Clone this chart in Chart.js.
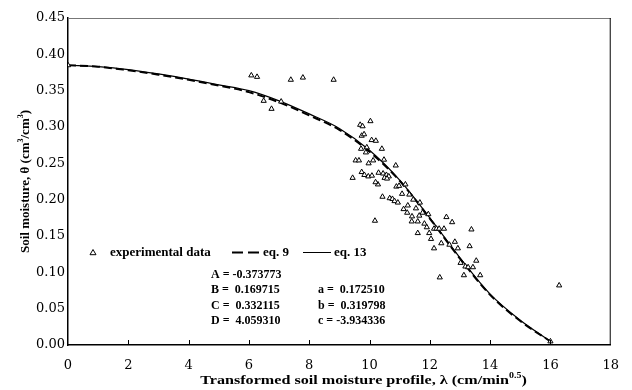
<!DOCTYPE html>
<html>
<head>
<meta charset="utf-8">
<script src="https://cdn.jsdelivr.net/npm/chart.js@4.4.0/dist/chart.umd.min.js"></script>
<style>
  html, body { margin: 0; padding: 0; background: #fff; }
  #wrap { width: 632px; height: 390px; }
</style>
</head>
<body>
<div id="wrap"><canvas id="chart" width="632" height="390"></canvas></div>
<script>
// measured points (lambda, theta)
const expX = [0.00, 6.08, 6.27, 6.49, 6.75, 7.07, 7.39, 7.79, 8.81,
  9.69, 9.77, 10.03, 9.74, 9.82, 10.07, 10.21, 9.72, 9.91, 10.41, 9.88,
  9.54, 9.65, 9.97, 10.12, 10.48, 10.87, 9.44, 9.74, 9.83, 9.96, 10.08,
  10.30, 10.45, 10.56, 10.64, 10.50, 10.58, 10.28, 10.20, 10.89, 10.98,
  11.19, 11.08, 10.43, 10.67, 10.76, 10.83, 10.94, 11.32, 11.45, 11.67,
  11.27, 11.13, 11.54, 11.41, 11.25, 11.65, 11.76, 11.95, 11.40, 11.60,
  11.82, 11.90, 11.60, 11.98, 12.14, 12.22, 12.31, 12.47, 12.55, 12.74,
  13.38, 12.04, 12.14, 12.38, 12.65, 12.83, 12.93, 13.32, 13.02, 13.18,
  13.27, 13.43, 13.54, 12.33, 13.13, 13.67, 16.00, 10.18, 16.29];
const expY = [0.385, 0.371, 0.369, 0.336, 0.325, 0.335, 0.365, 0.368, 0.365,
  0.303, 0.301, 0.308, 0.288, 0.290, 0.282, 0.281, 0.270, 0.272, 0.270, 0.265,
  0.254, 0.254, 0.250, 0.254, 0.255, 0.247, 0.230, 0.238, 0.234, 0.232, 0.233,
  0.237, 0.236, 0.234, 0.232, 0.230, 0.229, 0.221, 0.224, 0.218, 0.219,
  0.221, 0.208, 0.204, 0.202, 0.201, 0.198, 0.196, 0.207, 0.200, 0.196,
  0.192, 0.187, 0.188, 0.177, 0.182, 0.178, 0.182, 0.180, 0.170, 0.170,
  0.167, 0.162, 0.154, 0.154, 0.160, 0.160, 0.160, 0.160, 0.176, 0.169,
  0.159, 0.146, 0.133, 0.140, 0.138, 0.142, 0.133, 0.136, 0.113, 0.108,
  0.107, 0.107, 0.116, 0.093, 0.096, 0.096, 0.005, 0.171, 0.082];

// fitted curves
const curveX = [0, 1, 2, 3, 4, 5, 6, 7, 8, 9, 10, 11, 12, 13, 14, 15, 16];
const eq9Y  = [0.385, 0.383, 0.378, 0.372, 0.365, 0.357, 0.348, 0.334, 0.316,
  0.296, 0.266, 0.226, 0.174, 0.119, 0.069, 0.033, 0.005];
const eq13Y = [0.385, 0.383, 0.379, 0.373, 0.366, 0.358, 0.350, 0.336, 0.318,
  0.298, 0.268, 0.227, 0.175, 0.120, 0.070, 0.034, 0.005];

const xTicks = [0, 2, 4, 6, 8, 10, 12, 14, 16, 18];
const yTicks = [0, 0.05, 0.10, 0.15, 0.20, 0.25, 0.30, 0.35, 0.40, 0.45];

const paramsLeft = ["A = -0.373773", "B =  0.169715", "C =  0.332115", "D =  4.059310"];
const paramsRight = ["a =  0.172510", "b =  0.319798", "c = -3.934336"];

const toXY = (xs, ys) => xs.map((x, i) => ({ x: x, y: ys[i] }));

const BOLD = "bold 13px 'Liberation Serif', 'Times New Roman', serif";

// draw text pieces with superscripts, centred on cx (sx = horizontal stretch)
function drawRich(ctx, parts, cx, cy, size, sx) {
  const base = "bold " + size + "px 'Liberation Serif', serif";
  const sup = "bold " + Math.round(size * 0.65) + "px 'Liberation Serif', serif";
  let w = 0;
  parts.forEach(p => { ctx.font = p.sup ? sup : base; w += ctx.measureText(p.t).width; });
  ctx.save();
  ctx.translate(cx, cy);
  ctx.scale(sx || 1, 1);
  let x = -w / 2;
  ctx.textAlign = "left";
  ctx.textBaseline = "middle";
  parts.forEach(p => {
    ctx.font = p.sup ? sup : base;
    ctx.fillText(p.t, x, p.sup ? -size * 0.4 : 0);
    x += ctx.measureText(p.t).width;
  });
  ctx.restore();
}

const decor = {
  id: "decor",
  afterDraw(chart) {
    const ctx = chart.ctx;
    const a = chart.chartArea;
    const xs = chart.scales.x;
    ctx.save();
    // top and right frame
    ctx.lineWidth = 1;
    ctx.strokeStyle = "#777";
    ctx.beginPath(); ctx.moveTo(a.left, a.top + 0.5); ctx.lineTo(a.right, a.top + 0.5); ctx.stroke();
    ctx.strokeStyle = "#000";
    ctx.beginPath(); ctx.moveTo(a.right - 0.5, a.top); ctx.lineTo(a.right - 0.5, a.bottom); ctx.stroke();
    // inward ticks on x axis
    xTicks.forEach(v => {
      if (v === 0 || v === 18) return;
      const px = Math.round(xs.getPixelForValue(v)) + 0.5;
      ctx.beginPath(); ctx.moveTo(px, a.bottom); ctx.lineTo(px, a.bottom - 5); ctx.stroke();
    });

    // legend
    ctx.fillStyle = "#000";
    const ly = 252.5;
    ctx.lineWidth = 1;
    ctx.beginPath();
    ctx.moveTo(93, ly - 3); ctx.lineTo(96, ly + 2.2); ctx.lineTo(90, ly + 2.2); ctx.closePath();
    ctx.stroke();
    ctx.font = BOLD;
    ctx.textAlign = "left";
    ctx.textBaseline = "middle";
    ctx.fillText("experimental data", 110, ly);
    ctx.lineWidth = 2.2;
    ctx.setLineDash([11, 5]);
    ctx.beginPath(); ctx.moveTo(232, ly); ctx.lineTo(259, ly); ctx.stroke();
    ctx.setLineDash([]);
    ctx.fillText("eq. 9", 263, ly);
    ctx.lineWidth = 1;
    ctx.beginPath(); ctx.moveTo(303, ly); ctx.lineTo(331, ly); ctx.stroke();
    ctx.fillText("eq. 13", 334, ly);

    // parameters
    ctx.font = "bold 12px 'Liberation Serif', serif";
    paramsLeft.forEach((t, i) => ctx.fillText(t, 211, 275 + i * 15.4));
    paramsRight.forEach((t, i) => ctx.fillText(t, 318, 290.4 + i * 15.4));

    // axis titles
    drawRich(ctx, [
      { t: "Transformed soil moisture profile, \u03bb (cm/min" },
      { t: "0.5", sup: true },
      { t: ")" }
    ], 363.5, 381, 13, 1.24);

    ctx.translate(26, (a.top + a.bottom) / 2);
    ctx.rotate(-Math.PI / 2);
    drawRich(ctx, [
      { t: "Soil moisture, \u03b8 (cm" },
      { t: "3", sup: true },
      { t: "/cm" },
      { t: "3", sup: true },
      { t: ")" }
    ], 0, 0, 13, 1);
    ctx.restore();
  }
};

const tickFont = { family: "'DejaVu Serif', serif", size: 13 };

new Chart(document.getElementById("chart"), {
  type: "scatter",
  data: {
    datasets: [
      {
        label: "experimental data",
        data: toXY(expX, expY),
        pointStyle: "triangle",
        pointRadius: 3,
        pointBorderWidth: 1,
        pointBackgroundColor: "#fff",
        pointBorderColor: "#000",
        showLine: false,
        order: 0
      },
      {
        label: "eq. 9",
        type: "line",
        data: toXY(curveX, eq9Y),
        borderColor: "#000",
        borderWidth: 2,
        borderDash: [8, 4],
        pointRadius: 0,
        fill: false,
        cubicInterpolationMode: "monotone",
        order: 2
      },
      {
        label: "eq. 13",
        type: "line",
        data: toXY(curveX, eq13Y),
        borderColor: "#000",
        borderWidth: 1.2,
        pointRadius: 0,
        fill: false,
        cubicInterpolationMode: "monotone",
        order: 1
      }
    ]
  },
  options: {
    responsive: false,
    animation: false,
    devicePixelRatio: 1,
    layout: { padding: { top: 18, right: 14, left: 0, bottom: 0 } },
    plugins: { legend: { display: false }, tooltip: { enabled: false } },
    scales: {
      x: {
        type: "linear",
        min: 0, max: 18,
        afterBuildTicks: s => { s.ticks = xTicks.map(v => ({ value: v })); },
        afterFit: s => { s.height = 45; },
        grid: { display: false, drawTicks: false },
        border: { color: "#000", width: 1.5 },
        ticks: { color: "#000", font: tickFont, padding: 13, maxRotation: 0,
                 callback: v => String(v) }
      },
      y: {
        min: 0, max: 0.45,
        afterBuildTicks: s => { s.ticks = yTicks.map(v => ({ value: v })); },
        afterFit: s => { s.width = 68; },
        grid: { display: false, drawTicks: false },
        border: { color: "#000", width: 1.5 },
        ticks: { color: "#000", font: tickFont, padding: 3,
                 callback: v => Number(v).toFixed(2) }
      }
    }
  },
  plugins: [decor]
});
</script>
</body>
</html>
